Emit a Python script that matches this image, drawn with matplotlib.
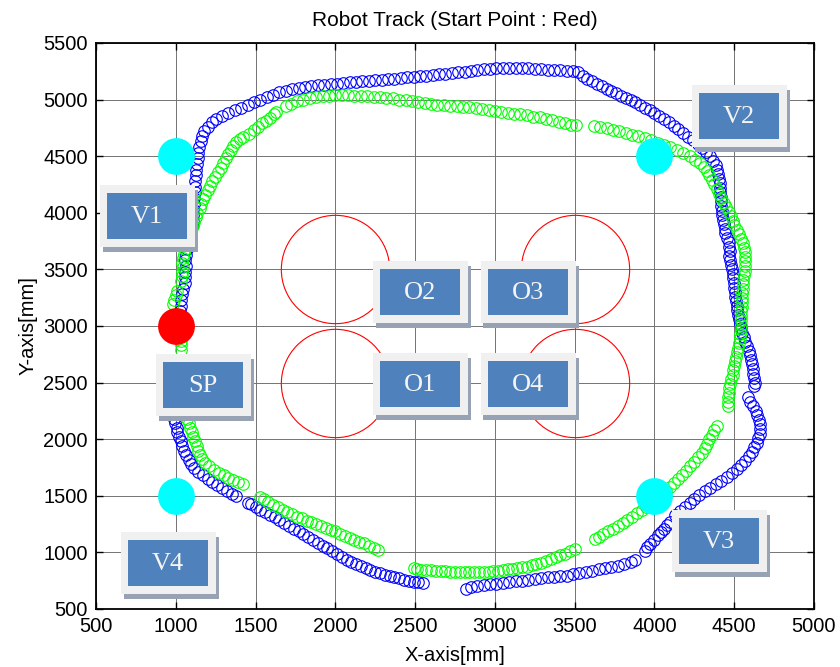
import numpy as np
import matplotlib
matplotlib.use("Agg")
import matplotlib.pyplot as plt
from matplotlib.patches import Rectangle

plt.rcParams['font.family'] = ['Liberation Sans', 'DejaVu Sans']

# robot track, run 1 [mm]
blue_track = [
    (1020, 3080), (1025, 3130), (1030, 3180), (1035, 3230), (1040, 3280), (1045, 3330),
    (1055, 3380), (1060, 3430), (1060, 3480), (1065, 3530), (1060, 3580), (1065, 3630),
    (1070, 3680), (1075, 3730), (1085, 3780), (1095, 3830), (1100, 3880), (1105, 3930),
    (1108, 3980), (1110, 4030), (1112, 4080), (1115, 4130), (1118, 4180), (1120, 4230),
    (1120, 4280), (1125, 4330), (1128, 4380), (1132, 4430), (1138, 4480), (1141, 4530),
    (1148, 4580), (1155, 4630), (1165, 4680), (1180, 4720), (1200, 4760), (1225, 4800),
    (1255, 4830), (1290, 4855), (1330, 4880), (1370, 4905), (1410, 4925), (1450, 4950),
    (1490, 4975), (1530, 5000), (1570, 5025), (1610, 5045), (1650, 5065), (1690, 5080),
    (1730, 5090), (1770, 5100), (1810, 5110), (1850, 5120), (1890, 5128), (1930, 5132),
    (1970, 5138), (2010, 5142), (2050, 5148), (2090, 5152), (2130, 5158), (2170, 5162),
    (2210, 5168), (2250, 5172), (2290, 5176), (2330, 5180), (2370, 5186), (2410, 5190),
    (2450, 5196), (2490, 5200), (2530, 5205), (2570, 5210), (2610, 5215), (2650, 5222),
    (2690, 5228), (2730, 5235), (2770, 5240), (2810, 5248), (2850, 5255), (2890, 5262),
    (2930, 5268), (2970, 5274), (3010, 5278), (3050, 5280), (3090, 5282), (3130, 5283),
    (3170, 5280), (3210, 5276), (3250, 5272), (3290, 5268), (3330, 5265), (3370, 5262),
    (3410, 5258), (3450, 5255), (3490, 5255), (3520, 5240), (3550, 5210), (3580, 5185),
    (3610, 5160), (3640, 5140), (3670, 5120), (3700, 5095), (3730, 5075), (3760, 5055),
    (3790, 5035), (3820, 5015), (3850, 4995), (3880, 4975), (3910, 4955), (3940, 4930),
    (3970, 4905), (4000, 4880), (4030, 4855), (4060, 4830), (4090, 4800), (4120, 4770),
    (4150, 4740), (4180, 4705), (4210, 4670), (4240, 4640), (4270, 4610), (4300, 4575),
    (4325, 4540), (4350, 4500), (4370, 4460), (4385, 4420), (4395, 4380), (4400, 4340),
    (4405, 4300), (4408, 4260), (4410, 4220), (4412, 4180), (4415, 4140), (4418, 4100),
    (4420, 4060), (4422, 4020), (4425, 3980), (4430, 3940), (4435, 3900), (4440, 3860),
    (4445, 3820), (4455, 3780), (4465, 3740), (4470, 3700), (4475, 3660), (4470, 3620),
    (4475, 3580), (4480, 3540), (4485, 3500), (4490, 3460), (4495, 3420), (4500, 3380),
    (4500, 3340), (4505, 3300), (4505, 3260), (4510, 3220), (4515, 3180), (4520, 3140),
    (4525, 3100), (4530, 3060), (4535, 3020), (4540, 2980), (4550, 2940), (4560, 2900),
    (4570, 2860), (4580, 2820), (4590, 2780), (4600, 2740), (4605, 2700), (4610, 2660),
    (4615, 2620), (4618, 2580), (4625, 2540), (4630, 2500), (4625, 2470),
    (4585, 2370), (4600, 2330), (4620, 2290), (4635, 2250), (4645, 2210), (4655, 2170),
    (4660, 2130), (4662, 2090), (4660, 2050), (4650, 2010), (4640, 1970), (4625, 1930),
    (4610, 1890), (4590, 1850), (4570, 1810), (4545, 1770), (4515, 1735), (4485, 1700),
    (4455, 1665), (4420, 1630), (4385, 1600), (4350, 1570), (4315, 1540), (4280, 1505),
    (4250, 1470), (4220, 1435), (4190, 1400), (4160, 1365), (4130, 1330), (4100, 1270),
    (4080, 1240), (4060, 1210), (4040, 1180), (4020, 1150), (3995, 1110), (3975, 1075),
    (3955, 1045), (3940, 1010),
    (3880, 935), (3850, 915), (3810, 895), (3770, 880), (3730, 870), (3690, 860),
    (3650, 850), (3610, 840), (3570, 830), (3530, 815), (3490, 805), (3450, 795),
    (3410, 790), (3370, 785), (3330, 780), (3290, 775), (3250, 765), (3210, 760),
    (3170, 750), (3130, 745), (3090, 735), (3050, 730), (3010, 725), (2970, 720),
    (2930, 715), (2890, 700), (2850, 690), (2820, 675),
    (2550, 730), (2520, 738), (2490, 742), (2460, 750), (2430, 760), (2400, 770),
    (2370, 780), (2340, 792), (2310, 803), (2280, 815), (2250, 830), (2220, 845),
    (2190, 862), (2160, 880), (2130, 898), (2100, 915), (2070, 933), (2040, 958),
    (2010, 985), (1980, 1010), (1950, 1035), (1920, 1060), (1890, 1085), (1860, 1110),
    (1830, 1135), (1800, 1160), (1770, 1185), (1740, 1210), (1710, 1235), (1680, 1262),
    (1650, 1288), (1620, 1310), (1590, 1332), (1560, 1355), (1530, 1378), (1500, 1400),
    (1470, 1425), (1455, 1440),
    (1380, 1495), (1350, 1515), (1320, 1540), (1290, 1565), (1260, 1595), (1230, 1620),
    (1200, 1650), (1170, 1680), (1140, 1710), (1115, 1745), (1095, 1780), (1080, 1820),
    (1065, 1860), (1050, 1900), (1040, 1940), (1030, 1980), (1020, 2020), (1010, 2060),
    (1005, 2100), (995, 2140), (990, 2180), (985, 2220), (985, 2260), (990, 2300),
    (995, 2340), (1000, 2380),
]

# robot track, run 2 [mm]
green_track = [
    (1030, 2790), (1035, 2830), (1030, 2870), (1020, 2900),
    (985, 3190), (990, 3230), (1000, 3270), (1010, 3310),
    (1035, 3400), (1040, 3440), (1040, 3480), (1045, 3520), (1040, 3560), (1045, 3600),
    (1050, 3640), (1055, 3680), (1065, 3720), (1075, 3760), (1085, 3800), (1095, 3840),
    (1105, 3880), (1115, 3920), (1125, 3960), (1135, 4000), (1150, 4040), (1160, 4080),
    (1172, 4120), (1185, 4160), (1200, 4200), (1215, 4240), (1230, 4280), (1248, 4320),
    (1265, 4360), (1282, 4400), (1298, 4440), (1315, 4480), (1330, 4520), (1345, 4555),
    (1360, 4590), (1380, 4625), (1400, 4650), (1420, 4670),
    (1460, 4700), (1490, 4730), (1515, 4760), (1540, 4790), (1565, 4815), (1590, 4840),
    (1615, 4870), (1630, 4890),
    (1690, 4940), (1720, 4960), (1760, 4985), (1800, 5000), (1840, 5015), (1880, 5025),
    (1920, 5030), (1960, 5035), (2000, 5040), (2040, 5040), (2080, 5038), (2120, 5036),
    (2160, 5032), (2200, 5030), (2240, 5025), (2280, 5020), (2320, 5015), (2360, 5010),
    (2400, 5000), (2440, 4995), (2480, 4990), (2520, 4980), (2560, 4970), (2600, 4960),
    (2640, 4955), (2680, 4950), (2720, 4945), (2760, 4940), (2800, 4938), (2840, 4935),
    (2880, 4930), (2920, 4920), (2960, 4910), (3000, 4900), (3040, 4890), (3080, 4885),
    (3120, 4875), (3160, 4870), (3200, 4860), (3240, 4850), (3280, 4845), (3320, 4830),
    (3360, 4820), (3400, 4805), (3440, 4790), (3480, 4780), (3510, 4775),
    (3620, 4770), (3660, 4755), (3700, 4745), (3740, 4735), (3780, 4720), (3820, 4705),
    (3860, 4690), (3900, 4675), (3940, 4660), (3980, 4640), (4020, 4620), (4060, 4600),
    (4100, 4580), (4140, 4555), (4180, 4525), (4220, 4500), (4255, 4470), (4285, 4440),
    (4310, 4405), (4330, 4370), (4345, 4330), (4360, 4290), (4375, 4250), (4390, 4210),
    (4405, 4170), (4420, 4130), (4435, 4090), (4450, 4050), (4465, 4010), (4480, 3970),
    (4490, 3930), (4500, 3890), (4515, 3850), (4530, 3810), (4545, 3770), (4555, 3730),
    (4560, 3690), (4565, 3650), (4570, 3610), (4570, 3570), (4568, 3530), (4565, 3490),
    (4560, 3450), (4555, 3410), (4555, 3370), (4552, 3330), (4550, 3290), (4548, 3250),
    (4548, 3210), (4546, 3170), (4545, 3130), (4545, 3090), (4545, 3050), (4542, 3010),
    (4540, 2970), (4538, 2930), (4535, 2890), (4530, 2850), (4525, 2810), (4520, 2770),
    (4510, 2730), (4505, 2690), (4500, 2650), (4495, 2610), (4490, 2570), (4482, 2530),
    (4475, 2490), (4470, 2450), (4465, 2410), (4462, 2370), (4460, 2330), (4460, 2290),
    (4390, 2120), (4375, 2080), (4360, 2040), (4345, 2000), (4330, 1960), (4315, 1920),
    (4295, 1880), (4270, 1840), (4245, 1800), (4220, 1760), (4195, 1720), (4170, 1680),
    (4145, 1645), (4120, 1610), (4095, 1575), (4070, 1545), (4040, 1510), (4010, 1475),
    (3980, 1440), (3950, 1405), (3920, 1375), (3890, 1345), (3860, 1315), (3830, 1285),
    (3800, 1260), (3770, 1235), (3740, 1210), (3710, 1185), (3680, 1160), (3650, 1135),
    (3630, 1115),
    (3500, 1030), (3470, 1010), (3440, 990), (3410, 975), (3380, 955), (3350, 938),
    (3320, 920), (3290, 905), (3260, 895), (3230, 885), (3200, 875), (3170, 868),
    (3140, 860), (3110, 855), (3080, 850), (3050, 845), (3020, 840), (2990, 835),
    (2960, 830), (2930, 830), (2900, 825), (2870, 825), (2840, 825), (2810, 825),
    (2780, 825), (2750, 828), (2720, 830), (2690, 835), (2660, 838), (2630, 840),
    (2600, 842), (2570, 845), (2540, 848), (2510, 852), (2490, 858),
    (2270, 1020), (2240, 1040), (2210, 1060), (2180, 1080), (2150, 1095), (2120, 1110),
    (2090, 1125), (2060, 1145), (2030, 1165), (2000, 1185), (1970, 1200), (1940, 1215),
    (1910, 1230), (1880, 1250), (1850, 1265), (1820, 1280), (1790, 1300), (1760, 1315),
    (1730, 1335), (1700, 1355), (1670, 1375), (1640, 1400), (1610, 1420), (1580, 1445),
    (1550, 1470), (1530, 1490),
    (1420, 1600), (1390, 1620), (1360, 1640), (1330, 1660), (1300, 1680), (1270, 1705),
    (1240, 1730), (1210, 1760), (1185, 1790), (1165, 1825), (1150, 1860), (1140, 1900),
    (1130, 1940), (1120, 1980), (1110, 2020), (1100, 2060), (1090, 2100), (1080, 2140),
    (1070, 2180), (1065, 2220),
]

# via points V1..V4 and start point SP
via_x = [1000, 4000, 4000, 1000]
via_y = [4500, 4500, 1500, 1500]
start_x = [1000]
start_y = [3000]

# obstacle centres O1..O4
obs_x = [2000, 2000, 3500, 3500]
obs_y = [2500, 3500, 3500, 2500]

# text boxes: label and top-left corner in figure pixels
box_labels = ['V1', 'V2', 'V3', 'V4', 'SP', 'O1', 'O2', 'O3', 'O4']
box_left = [100, 692, 672, 121, 156, 373, 373, 481, 481]
box_top = [185, 85, 510, 532, 354, 353, 261, 261, 353]

W, H = 840, 667
fig = plt.figure(figsize=(W / 100, H / 100), dpi=100)
ax = fig.add_axes([96 / W, 1 - 609 / H, (814 - 96) / W, (609 - 43) / H])

bx, by = np.array(blue_track).T
gx, gy = np.array(green_track).T
ax.plot(bx, by, 'o', mfc='none', mec='#0000ff', ms=8.3, mew=0.8, zorder=3)
ax.plot(gx, gy, 'o', mfc='none', mec='#00ff00', ms=8.3, mew=0.8, zorder=3)
ax.plot(obs_x, obs_y, 'o', mfc='none', mec='#ff0000', ms=78, mew=0.8, zorder=2)
ax.plot(via_x, via_y, 'o', color='#00ffff', ms=26.5, mew=0, zorder=4)
ax.plot(start_x, start_y, 'o', color='#ff0000', ms=26.5, mew=0, zorder=4)

ax.set_xlim(500, 5000)
ax.set_ylim(500, 5500)
ax.set_xticks(np.arange(500, 5001, 500))
ax.set_yticks(np.arange(500, 5501, 500))
ax.grid(True, color='0.45', lw=0.7)
ax.set_axisbelow(True)
ax.tick_params(direction='in', top=True, right=True, length=5, width=1,
               labelsize=14.5, pad=6)
for s in ax.spines.values():
    s.set_linewidth(1.3)

ax.set_title('Robot Track (Start Point : Red)', fontsize=15, pad=12)
ax.set_xlabel('X-axis[mm]', fontsize=14.5, labelpad=7)
ax.set_ylabel('Y-axis[mm]', fontsize=14.5, labelpad=4)


def px_rect(x0, y0, w, h, color):
    fig.add_artist(Rectangle((x0 / W, 1 - (y0 + h) / H), w / W, h / H,
                             transform=fig.transFigure, facecolor=color,
                             edgecolor='none'))


# annotation boxes with drop shadow
bw, bh = 95, 62
for lab, l, t in zip(box_labels, box_left, box_top):
    px_rect(l + 2.5, t + 4.5, bw, bh, '#97a3b4')
    px_rect(l, t, bw, bh, '#f0f0f0')
    px_rect(l + 7, t + 8, bw - 15, bh - 16, '#4f81bd')
    fig.text((l + 7 + (bw - 15) / 2) / W, 1 - (t + 8 + (bh - 16) / 2 + 1) / H, lab,
             ha='center', va='center', color='#f4f4f4', fontsize=19,
             family=['Liberation Serif', 'DejaVu Serif'])

fig.savefig('out.png', dpi=100)
